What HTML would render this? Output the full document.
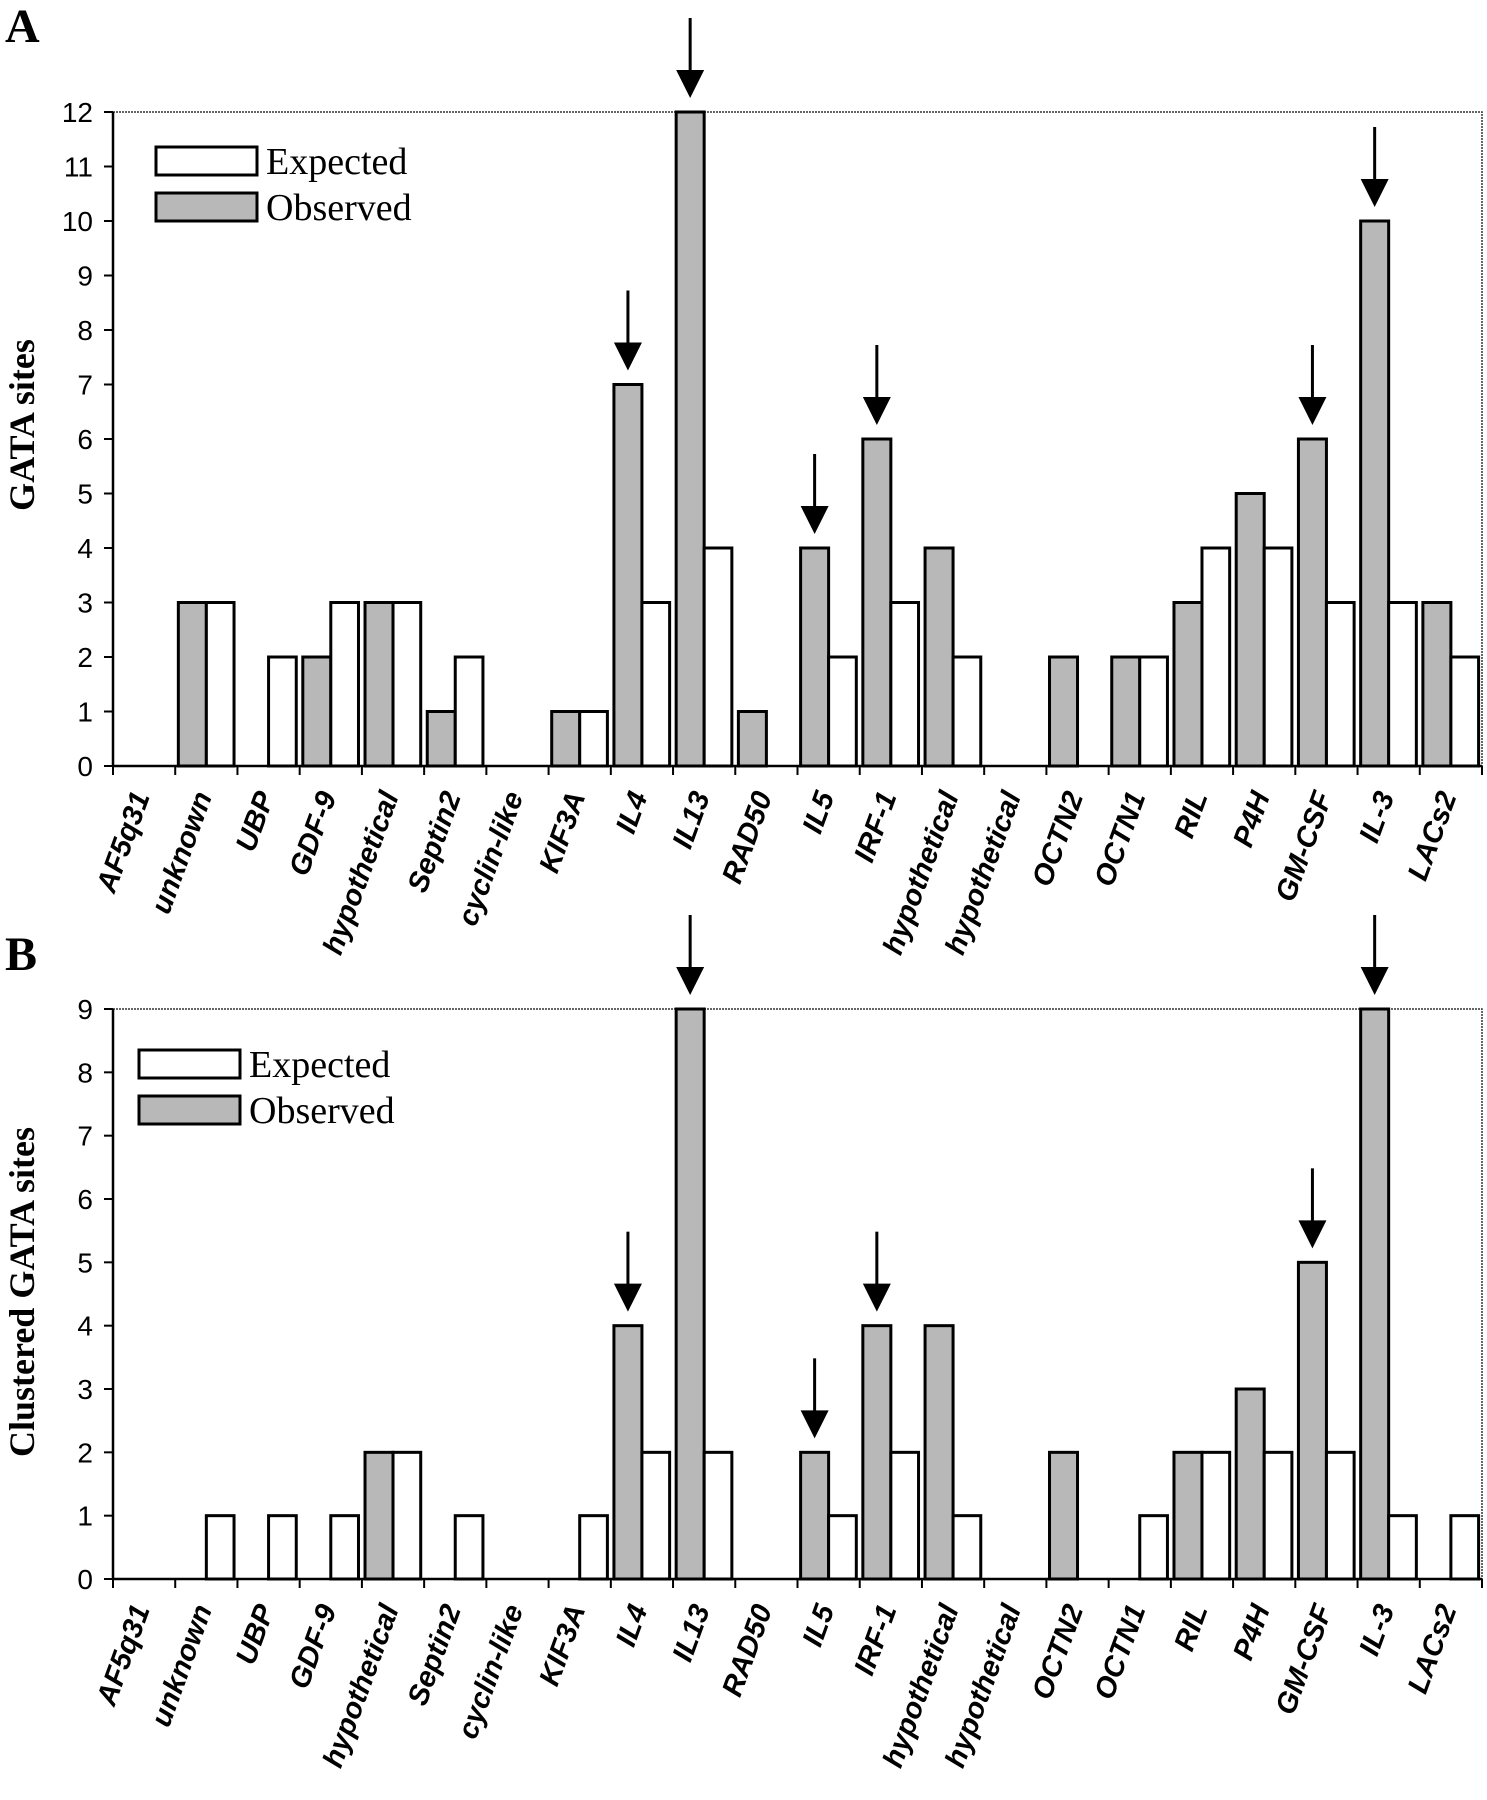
<!DOCTYPE html>
<html><head><meta charset="utf-8">
<style>
html,body{margin:0;padding:0;background:#fff;}
svg{display:block;}
.tick{font-family:"Liberation Sans",Arial,sans-serif;font-size:28px;fill:#000;}
.xl{font-family:"Liberation Sans",Arial,sans-serif;font-size:29px;font-weight:bold;font-style:italic;fill:#000;}
.ser{font-family:"Liberation Serif","Times New Roman",serif;fill:#000;}
</style></head>
<body>
<svg id="chart" width="1487" height="1800" viewBox="0 0 1487 1800" xmlns="http://www.w3.org/2000/svg">
<rect x="0" y="0" width="1487" height="1800" fill="#fff"/>
<text class="ser" x="5" y="42" font-size="48" font-weight="bold">A</text>
<text class="ser" x="5" y="970" font-size="48" font-weight="bold">B</text>
<g id="pa"></g>
<g id="pb"></g>
</svg>
<script>
const categories = ["AF5q31","unknown","UBP","GDF-9","hypothetical","Septin2","cyclin-like","KIF3A","IL4","IL13","RAD50","IL5","IRF-1","hypothetical","hypothetical","OCTN2","OCTN1","RIL","P4H","GM-CSF","IL-3","LACs2"];
const obsA = [0,3,0,2,3,1,0,1,7,12,1,4,6,4,0,2,2,3,5,6,10,3];
const expA = [0,3,2,3,3,2,0,1,3,4,0,2,3,2,0,0,2,4,4,3,3,2];
const arrowsA = [8,9,11,12,19,20];
const obsB = [0,0,0,0,2,0,0,0,4,9,0,2,4,4,0,2,0,2,3,5,9,0];
const expB = [0,1,1,1,2,1,0,1,2,2,0,1,2,1,0,0,1,2,2,2,1,1];
const arrowsB = [8,9,11,12,19,20];
const ticksA = [0,1,2,3,4,5,6,7,8,9,10,11,12];
const ticksB = [0,1,2,3,4,5,6,7,8,9];

const NS="http://www.w3.org/2000/svg";
function mk(parent,tag,attrs,text){const e=document.createElementNS(NS,tag);for(const k in attrs)e.setAttribute(k,attrs[k]);if(text!==undefined)e.textContent=text;parent.appendChild(e);return e;}

function panel(g,cfg){
  const {left,right,top,bottom,ymax,obs,exp,ticks,arrows,title,titleY,legX,legY,tag}=cfg;
  const n=categories.length, cw=(right-left)/n;
  const y=v=>bottom-(bottom-top)*v/ymax;
  const x=i=>left+i*cw;
  const fr=mk(g,'path',{d:`M${left},${top}H${right}V${bottom}`,fill:'none',stroke:'#333','stroke-width':1.5,'stroke-dasharray':'2,1'});
  
  
  for(let i=0;i<n;i++){
    const s=x(i);
    const g1=s+cw*0.05,m=s+cw*0.5,e=s+cw*0.945;
    if(obs[i]>0){
      const r=mk(g,'rect',{x:g1,y:y(obs[i]),width:m-g1,height:bottom-y(obs[i]),fill:'#b8b8b8',stroke:'#000','stroke-width':3});
      
      
    }
    if(exp[i]>0){
      const r=mk(g,'rect',{x:m,y:y(exp[i]),width:e-m,height:bottom-y(exp[i]),fill:'#fff',stroke:'#000','stroke-width':3});
      
      
    }
  }
  const ya=mk(g,'line',{x1:left,y1:top,x2:left,y2:bottom,stroke:'#000','stroke-width':2.5});
  
  
  const xa=mk(g,'line',{x1:left,y1:bottom,x2:right,y2:bottom,stroke:'#000','stroke-width':2.5});
  
  
  ticks.forEach(t=>{
    mk(g,'line',{x1:left-9,y1:y(t),x2:left,y2:y(t),stroke:'#000','stroke-width':2});
    const tl=mk(g,'text',{x:left-20,y:y(t)+10,'text-anchor':'end',class:'tick'},String(t));
    
    
  });
  for(let i=0;i<=n;i++){
    mk(g,'line',{x1:x(i),y1:bottom,x2:x(i),y2:bottom+9,stroke:'#000','stroke-width':2});
  }
  categories.forEach((c,i)=>{
    const cx=x(i)+cw*0.5+6, cy=bottom+30;
    const t=mk(g,'text',{x:cx,y:cy,'text-anchor':'end',class:'xl',transform:`rotate(-70 ${cx} ${cy})`},c);
    
    
  });
  arrows.forEach(i=>{
    const ax=x(i)+cw*0.05+(cw*0.45)/2;
    const tip=y(obs[i])-14;
    const a=mk(g,'g',{});
    
    
    mk(a,'line',{x1:ax,y1:tip-80,x2:ax,y2:tip-25,stroke:'#000','stroke-width':3});
    mk(a,'path',{d:`M${ax-14},${tip-28}L${ax+14},${tip-28}L${ax},${tip}Z`,fill:'#000'});
  });
  const tt=mk(g,'text',{x:34,y:titleY,'text-anchor':'middle',class:'ser','font-size':36,'font-weight':'bold',transform:`rotate(-90 34 ${titleY})`},title);
  
  
  const lg=mk(g,'g',{});
  
  
  mk(lg,'rect',{x:legX,y:legY,width:101,height:28,fill:'#fff',stroke:'#000','stroke-width':3});
  mk(lg,'text',{x:legX+110,y:legY+27,class:'ser','font-size':38},'Expected');
  mk(lg,'rect',{x:legX,y:legY+46,width:101,height:28,fill:'#b8b8b8',stroke:'#000','stroke-width':3});
  mk(lg,'text',{x:legX+110,y:legY+73,class:'ser','font-size':38},'Observed');
}
panel(document.getElementById('pa'),{left:113,right:1482,top:112,bottom:766,ymax:12,obs:obsA,exp:expA,ticks:ticksA,arrows:arrowsA,title:'GATA sites',titleY:425,legX:156,legY:147,tag:'panel-a'});
panel(document.getElementById('pb'),{left:113,right:1482,top:1009,bottom:1579,ymax:9,obs:obsB,exp:expB,ticks:ticksB,arrows:arrowsB,title:'Clustered GATA sites',titleY:1292,legX:139,legY:1050,tag:'panel-b'});
</script>
</body></html>
